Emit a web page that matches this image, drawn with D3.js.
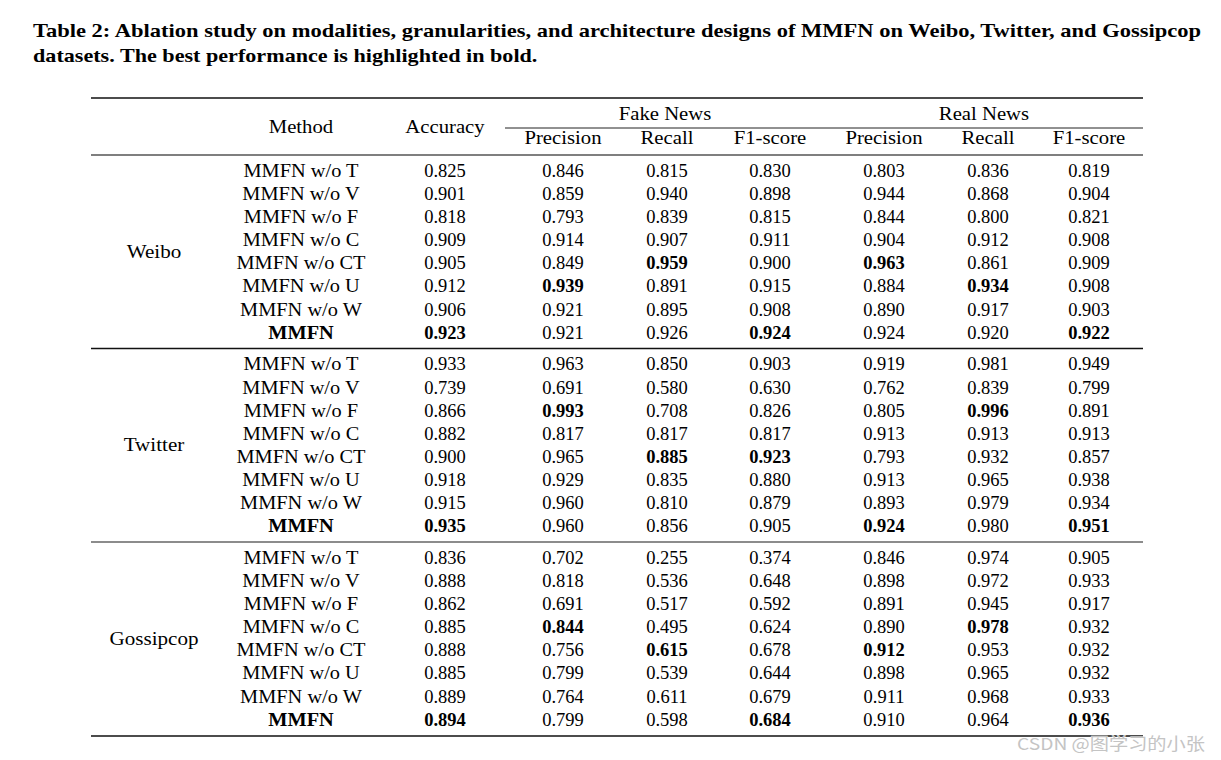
<!DOCTYPE html>
<html>
<head>
<meta charset="utf-8">
<script src="https://cdn.jsdelivr.net/npm/d3@7"></script>
<style>
  html, body { margin: 0; padding: 0; background: #fff; }
  svg { display: block; }
</style>
</head>
<body>
<svg id="chart" width="1221" height="760"></svg>
<script>
// ---------------- DATA ----------------
const titleLines = [
  "Table 2: Ablation study on modalities, granularities, and architecture designs of MMFN on Weibo, Twitter, and Gossipcop",
  "datasets. The best performance is highlighted in bold."
];
const datasets = ["Weibo", "Twitter", "Gossipcop"];
const methods = ["MMFN w/o T", "MMFN w/o V", "MMFN w/o F", "MMFN w/o C", "MMFN w/o CT", "MMFN w/o U", "MMFN w/o W", "MMFN"];
const groupHeaders = ["Fake News", "Real News"];
const metricHeaders = ["Precision", "Recall", "F1-score", "Precision", "Recall", "F1-score"];
// columns: Accuracy, Fake P, Fake R, Fake F1, Real P, Real R, Real F1
const weiboValues = [
  ["0.825","0.846","0.815","0.830","0.803","0.836","0.819"],
  ["0.901","0.859","0.940","0.898","0.944","0.868","0.904"],
  ["0.818","0.793","0.839","0.815","0.844","0.800","0.821"],
  ["0.909","0.914","0.907","0.911","0.904","0.912","0.908"],
  ["0.905","0.849","0.959","0.900","0.963","0.861","0.909"],
  ["0.912","0.939","0.891","0.915","0.884","0.934","0.908"],
  ["0.906","0.921","0.895","0.908","0.890","0.917","0.903"],
  ["0.923","0.921","0.926","0.924","0.924","0.920","0.922"]
];
const twitterValues = [
  ["0.933","0.963","0.850","0.903","0.919","0.981","0.949"],
  ["0.739","0.691","0.580","0.630","0.762","0.839","0.799"],
  ["0.866","0.993","0.708","0.826","0.805","0.996","0.891"],
  ["0.882","0.817","0.817","0.817","0.913","0.913","0.913"],
  ["0.900","0.965","0.885","0.923","0.793","0.932","0.857"],
  ["0.918","0.929","0.835","0.880","0.913","0.965","0.938"],
  ["0.915","0.960","0.810","0.879","0.893","0.979","0.934"],
  ["0.935","0.960","0.856","0.905","0.924","0.980","0.951"]
];
const gossipcopValues = [
  ["0.836","0.702","0.255","0.374","0.846","0.974","0.905"],
  ["0.888","0.818","0.536","0.648","0.898","0.972","0.933"],
  ["0.862","0.691","0.517","0.592","0.891","0.945","0.917"],
  ["0.885","0.844","0.495","0.624","0.890","0.978","0.932"],
  ["0.888","0.756","0.615","0.678","0.912","0.953","0.932"],
  ["0.885","0.799","0.539","0.644","0.898","0.965","0.932"],
  ["0.889","0.764","0.611","0.679","0.911","0.968","0.933"],
  ["0.894","0.799","0.598","0.684","0.910","0.964","0.936"]
];
// bold cells: [row, col] per dataset
const weiboBold = [[7,0],[5,1],[4,2],[7,3],[4,4],[5,5],[7,6]];
const twitterBold = [[7,0],[2,1],[4,2],[4,3],[7,4],[2,5],[7,6]];
const gossipcopBold = [[7,0],[3,1],[4,2],[7,3],[4,4],[3,5],[7,6]];
const watermark = "CSDN @图学习的小张";

// ---------------- LAYOUT ----------------
const svg = d3.select("#chart");
const serif = "'Liberation Serif', 'Times New Roman', serif";
const colKeys = ["group", "method", "acc", "fp", "fr", "ff", "rp", "rr", "rf"];
const colCenters = [154, 301, 445, 563, 667, 770, 884, 988, 1089];
const x = d3.scaleOrdinal().domain(colKeys).range(colCenters);
const tableLeft = 91, tableRight = 1143;
const bodyFont = 18.5;
const labelStretch = 1.12;

// widen word labels to mimic the wider Libertine face
function stretch(sel, k) {
  sel.each(function () {
    const w = this.getComputedTextLength();
    d3.select(this).attr("textLength", w * k).attr("lengthAdjust", "spacingAndGlyphs");
  });
}

// title
const titleSel = svg.append("g").selectAll("text").data(titleLines).join("text")
  .attr("x", 33)
  .attr("y", (d, i) => 37 + i * 25)
  .attr("font-family", serif)
  .attr("font-weight", "bold")
  .attr("font-size", 19.5)
  .attr("fill", "#000")
  .text(d => d);
titleSel.each(function (d, i) {
  const w = this.getComputedTextLength();
  const target = i === 0 ? 1168 : w * 1.135;
  d3.select(this).attr("textLength", target).attr("lengthAdjust", "spacingAndGlyphs");
});

// rules
const rules = [
  {x1: tableLeft, x2: tableRight, y: 98, w: 1.6, c: "#111"},
  {x1: 505, x2: tableRight, y: 128, w: 1, c: "#222"},
  {x1: tableLeft, x2: tableRight, y: 155, w: 1.3, c: "#555"}
];
const sectionTops = [155, 348.5, 542];
const rowStep = 23.1;
sectionTops.forEach((t, i) => {
  if (i > 0) rules.push({x1: tableLeft, x2: tableRight, y: t, w: 1.3, c: i === 1 ? "#111" : "#666"});
});
rules.push({x1: tableLeft, x2: tableRight, y: 736, w: 1.6, c: "#111"});
svg.append("g").selectAll("line").data(rules).join("line")
  .attr("x1", d => d.x1).attr("x2", d => d.x2)
  .attr("y1", d => d.y).attr("y2", d => d.y)
  .attr("stroke", d => d.c).attr("stroke-width", d => d.w);

// header
const head = svg.append("g").attr("font-family", serif).attr("font-size", bodyFont).attr("fill", "#000").attr("text-anchor", "middle");
head.append("text").attr("x", x("method")).attr("y", 127).attr("dy", "0.35em").text("Method");
head.append("text").attr("x", x("acc")).attr("y", 127).attr("dy", "0.35em").text("Accuracy");
head.selectAll(".grp").data(groupHeaders).join("text").attr("class", "grp")
  .attr("x", (d, i) => i === 0 ? x("fr") - 2 : x("rr") - 4)
  .attr("y", 114).attr("dy", "0.35em").text(d => d);
head.selectAll(".met").data(metricHeaders).join("text").attr("class", "met")
  .attr("x", (d, i) => x(colKeys[i + 3]))
  .attr("y", 138).attr("dy", "0.35em").text(d => d);
stretch(head.selectAll("text"), labelStretch);

// body
const allValues = [weiboValues, twitterValues, gossipcopValues];
const allBold = [weiboBold, twitterBold, gossipcopBold];
datasets.forEach((name, si) => {
  const y = d3.scaleLinear().domain([0, 1]).range([sectionTops[si] + 15.5, sectionTops[si] + 15.5 + rowStep]);
  const g = svg.append("g").attr("font-family", serif).attr("font-size", bodyFont).attr("fill", "#000").attr("text-anchor", "middle");
  const grp = g.append("text").attr("x", x("group")).attr("y", y(3.5)).attr("dy", "0.35em").text(name);
  stretch(grp, 1.14);
  const m = g.selectAll(".m").data(methods).join("text").attr("class", "m")
    .attr("x", x("method")).attr("y", (d, i) => y(i)).attr("dy", "0.35em")
    .attr("font-weight", (d, i) => i === methods.length - 1 ? "bold" : null)
    .text(d => d);
  stretch(m, 1.1);
  const boldSet = new Set(allBold[si].map(([r, c]) => r + "-" + c));
  const cells = [];
  allValues[si].forEach((row, r) => row.forEach((v, c) => cells.push({r, c, v, b: boldSet.has(r + "-" + c)})));
  g.selectAll(".v").data(cells).join("text").attr("class", "v")
    .attr("x", d => x(colKeys[d.c + 2]))
    .attr("y", d => y(d.r)).attr("dy", "0.35em")
    .attr("font-weight", d => d.b ? "bold" : null)
    .text(d => d.v);
});

// watermark
svg.append("text").attr("x", 1205).attr("y", 750).attr("text-anchor", "end")
  .attr("font-family", "'Noto Sans CJK SC', 'Noto Sans', sans-serif")
  .attr("font-size", 16.5).attr("fill", "#c4c4c4")
  .attr("textLength", 188).attr("lengthAdjust", "spacingAndGlyphs")
  .attr("stroke", "#fff").attr("stroke-width", 0.5).attr("paint-order", "stroke")
  .text(watermark);
</script>
</body>
</html>
